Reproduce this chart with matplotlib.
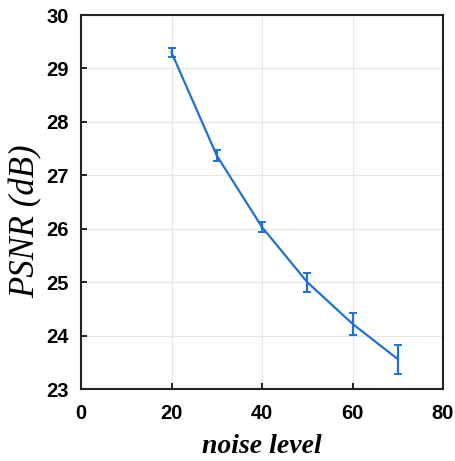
import matplotlib.pyplot as plt

noise = [20, 30, 40, 50, 60, 70]
psnr = [29.30, 27.37, 26.03, 25.00, 24.22, 23.56]
err = [0.08, 0.10, 0.10, 0.18, 0.20, 0.27]

fig = plt.figure(figsize=(4.55, 4.61), dpi=100)
ax = fig.add_axes([81 / 455, 1 - 389 / 461, 362 / 455, 374 / 461])

ax.errorbar(noise, psnr, yerr=err, color='#1f72d4', lw=1.6, capsize=3,
            elinewidth=1.6, capthick=1.4)

ax.set_xlim(0, 80)
ax.set_ylim(23, 30)
ax.set_xticks([0, 20, 40, 60, 80])
ax.set_yticks(range(23, 31))
ax.grid(True, color='#e6e6e6', lw=0.8)
ax.set_axisbelow(True)
ax.tick_params(direction='in', length=4, width=1.2, labelsize=14.5)
ax.tick_params(axis='y', pad=9)
ax.tick_params(axis='x', pad=11)
for lab in ax.get_xticklabels() + ax.get_yticklabels():
    lab.set_fontweight('bold')
    lab.set_family('Liberation Sans')
for s in ax.spines.values():
    s.set_linewidth(1.5)
    s.set_color('#222222')

ax.set_xlabel('noise level', labelpad=8, fontsize=20, family='Liberation Serif',
              style='italic', weight='bold')
ax.set_ylabel('PSNR (dB)', fontsize=25, family='Liberation Serif', style='italic')
ax.yaxis.set_label_coords(-0.105, 0.45)

fig.savefig('out.png')
